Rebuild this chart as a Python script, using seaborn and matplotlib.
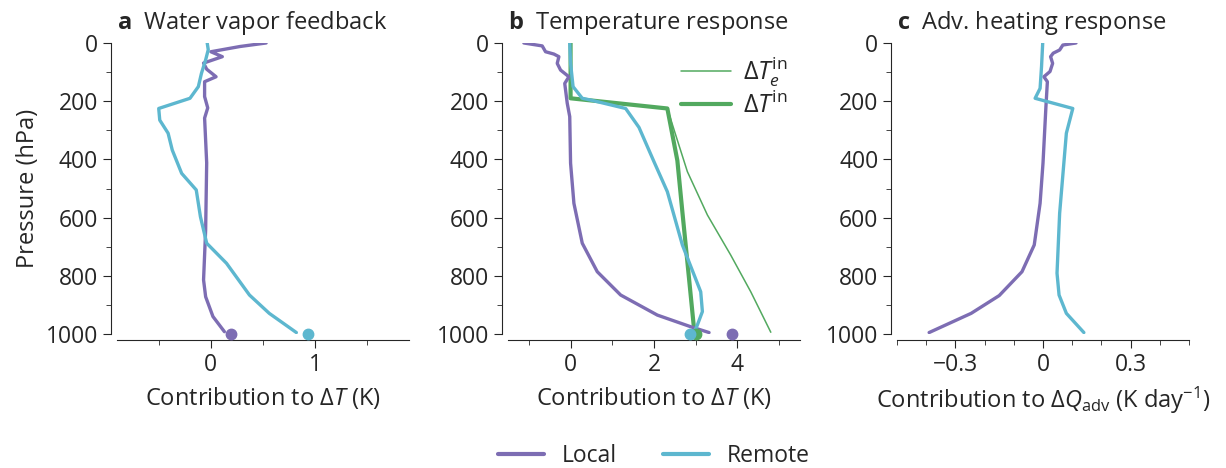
import numpy as np
import pandas as pd
import matplotlib.pyplot as plt
import seaborn as sns
from matplotlib.lines import Line2D
from matplotlib.ticker import MultipleLocator

# Values (pressure in hPa)
# a: water vapor feedback
a_local_p = [0, 12, 30, 47, 69, 90, 116, 133, 184, 223, 258, 412, 643, 814, 872, 940, 992]
a_local = [0.53, 0.28, 0.0, 0.11, -0.07, -0.04, 0.05, -0.06, -0.06, -0.03, -0.06, -0.04, -0.05, -0.07, -0.05, 0.02, 0.13]
a_remote_p = [0, 23, 58, 104, 150, 190, 225, 265, 310, 368, 448, 505, 597, 688, 757, 866, 929, 995]
a_remote = [-0.035, -0.025, -0.05, -0.09, -0.12, -0.2, -0.5, -0.49, -0.41, -0.37, -0.28, -0.14, -0.10, -0.04, 0.15, 0.37, 0.56, 0.82]
a_dots = {"Local": 0.19, "Remote": 0.93}

# b: temperature response
b_local_p = [0, 10, 30, 38, 47, 70, 93, 116, 139, 207, 253, 413, 551, 688, 786, 866, 935, 975, 995]
b_local = [-1.12, -0.68, -0.6, -0.4, -0.28, -0.32, -0.24, -0.04, -0.14, -0.08, -0.02, 0.0, 0.08, 0.28, 0.64, 1.2, 2.08, 2.88, 3.32]
b_remote_p = [0, 70, 150, 190, 196, 225, 290, 408, 511, 694, 855, 923, 969, 995]
b_remote = [-0.02, 0.0, 0.06, 0.28, 0.48, 1.32, 1.64, 2.0, 2.32, 2.68, 3.12, 3.16, 3.04, 2.96]
b_tin_p = [0, 190, 225, 404, 580, 752, 997]
b_tin = [0.0, 0.0, 2.32, 2.56, 2.68, 2.8, 2.97]
b_tein_p = [0, 190, 225, 316, 442, 591, 729, 855, 994]
b_tein = [0.0, 0.0, 2.32, 2.52, 2.8, 3.28, 3.84, 4.32, 4.8]
b_dots = {"Local": 3.88, "Tin": 3.0, "Remote": 2.86}

# c: advective heating response
c_local_p = [0, 7, 24, 35, 47, 70, 98, 116, 133, 219, 413, 551, 694, 786, 868, 929, 995]
c_local = [0.113, 0.068, 0.057, 0.035, 0.026, 0.033, 0.024, 0.003, 0.015, 0.01, 0.0, -0.01, -0.03, -0.072, -0.15, -0.246, -0.39]
c_remote_p = [0, 81, 156, 190, 225, 310, 585, 791, 866, 929, 995]
c_remote = [-0.001, -0.005, -0.01, -0.027, 0.102, 0.08, 0.057, 0.048, 0.055, 0.08, 0.14]

colors = {"Local": "#7d6db3", "Remote": "#5db7cf", "Tin": "#52a95f"}

sns.set_style("ticks")
plt.rcParams['font.family'] = ['Open Sans', 'DejaVu Sans']
plt.rcParams['font.size'] = 16
plt.rcParams['mathtext.fontset'] = 'custom'
plt.rcParams['mathtext.rm'] = 'Open Sans'
plt.rcParams['mathtext.it'] = 'Open Sans:italic'
plt.rcParams['mathtext.bf'] = 'Open Sans:bold'
plt.rcParams['xtick.major.size'] = 6
plt.rcParams['ytick.major.size'] = 6
plt.rcParams['xtick.minor.size'] = 3.5
plt.rcParams['ytick.minor.size'] = 3.5


def profile_df(local_p, local, remote_p, remote):
    return pd.concat([
        pd.DataFrame({"p": local_p, "val": local, "source": "Local"}),
        pd.DataFrame({"p": remote_p, "val": remote, "source": "Remote"}),
    ], ignore_index=True)


fig = plt.figure(figsize=(12.26, 4.68), dpi=100)
W, H = 1226, 468
lefts = [117, 508, 897]
axes = [fig.add_axes([l / W, 1 - 334 / H, 292 / W, 291 / H]) for l in lefts]

panels = [
    (profile_df(a_local_p, a_local, a_remote_p, a_remote), "a", "Water vapor feedback",
     r"Contribution to $\Delta T$ (K)", (-0.9, 1.9), 1, 0.5),
    (profile_df(b_local_p, b_local, b_remote_p, b_remote), "b", "Temperature response",
     r"Contribution to $\Delta T$ (K)", (-1.5, 5.5), 2, 1),
    (profile_df(c_local_p, c_local, c_remote_p, c_remote), "c", "Adv. heating response",
     r"Contribution to $\Delta Q_{\mathrm{adv}}$ (K day$^{-1}$)", (-0.5, 0.5), 0.3, 0.1),
]

for ax, (df, letter, title, xlabel, xlim, major, minor) in zip(axes, panels):
    if letter == "b":
        sns.lineplot(x=b_tein, y=b_tein_p, ax=ax, color=colors["Tin"], lw=1.1,
                     sort=False, estimator=None, zorder=1)
        sns.lineplot(x=b_tin, y=b_tin_p, ax=ax, color=colors["Tin"], lw=3,
                     sort=False, estimator=None, zorder=1)
    sns.lineplot(data=df, x="val", y="p", hue="source", palette=colors, ax=ax,
                 lw=2.4, sort=False, estimator=None, legend=False, zorder=2)
    ax.set_xlim(*xlim)
    ax.set_ylim(1000, 0)
    ax.xaxis.set_major_locator(MultipleLocator(major))
    ax.xaxis.set_minor_locator(MultipleLocator(minor))
    ax.yaxis.set_major_locator(MultipleLocator(200))
    ax.yaxis.set_minor_locator(MultipleLocator(100))
    ax.tick_params(labelsize=16.5)
    ax.set_xlabel(xlabel, labelpad=6, fontsize=17)
    ax.set_ylabel("")
    ax.set_title(r"$\mathbf{" + letter + "}$  " + title, loc="left", pad=10, fontsize=17)
    sns.despine(ax=ax, offset=4)

axes[0].set_ylabel("Pressure (hPa)", fontsize=17)
axes[0].set_xticks([0, 1])
axes[0].set_xticklabels(["0", "1"])
axes[2].set_xticks([-0.3, 0, 0.3])
axes[2].set_xticklabels(["\u22120.3", "0", "0.3"])

# surface dots
for key, val in a_dots.items():
    axes[0].plot(val, 1000, "o", color=colors[key], ms=7.5, clip_on=False, zorder=3)
for key, val in b_dots.items():
    axes[1].plot(val, 1000, "o", color=colors[key], ms=7.5, clip_on=False, zorder=3)

# inner legend for panel b
inner = [Line2D([], [], color=colors["Tin"], lw=1.1, label=r"$\Delta T_e^{\mathrm{in}}$"),
         Line2D([], [], color=colors["Tin"], lw=3, label=r"$\Delta T^{\mathrm{in}}$")]
axes[1].legend(handles=inner, loc="upper right", frameon=False, fontsize=18,
               handlelength=2.0, handletextpad=0.5, borderaxespad=0.1, labelspacing=0.15)

handles = [Line2D([], [], color=colors["Local"], lw=3, label="Local"),
           Line2D([], [], color=colors["Remote"], lw=3, label="Remote")]
fig.legend(handles=handles, loc="center", bbox_to_anchor=(654 / W, 1 - 456 / H),
           ncol=2, frameon=False, fontsize=16.5, handlelength=2.0, columnspacing=2.0)

plt.savefig("out.png", dpi=100)
